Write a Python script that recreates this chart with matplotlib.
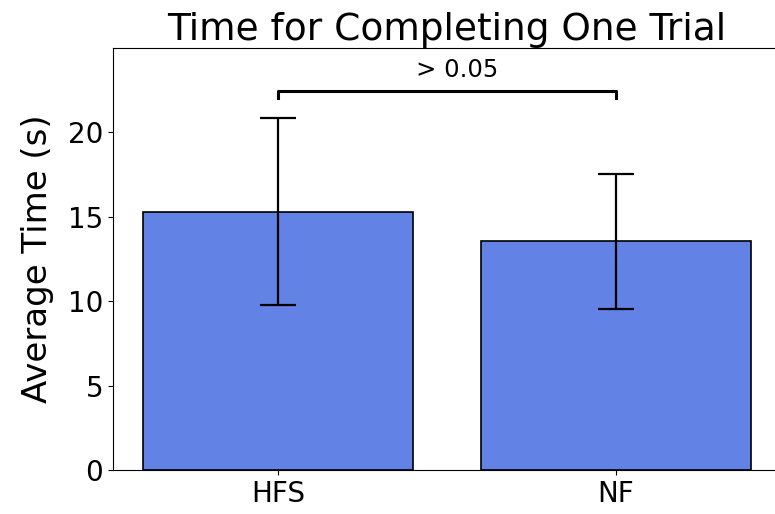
import matplotlib
matplotlib.use("Agg")
import matplotlib.pyplot as plt

conditions = ["HFS", "NF"]
mean_time = [15.3, 13.55]
err_time = [5.55, 4.0]
p_label = "> 0.05"
bracket_y = 22.45
bracket_drop = 0.42

fig = plt.figure(figsize=(7.75, 5.14), dpi=100)
ax = fig.add_axes([113 / 775, 1 - 470 / 514, 668 / 775, 422 / 514])

x = range(len(conditions))
ax.bar(x, mean_time, width=0.8, color="#6282E6",
       edgecolor="black", linewidth=1.2)
ax.errorbar(x, mean_time, yerr=err_time, fmt="none", ecolor="black",
            elinewidth=1.6, capsize=13, capthick=1.6)

# significance bracket
ax.plot([0, 0, 1, 1],
        [bracket_y - bracket_drop, bracket_y, bracket_y, bracket_y - bracket_drop],
        color="black", linewidth=2.2)
ax.text(0.53, bracket_y + 0.55, p_label, ha="center", va="bottom", fontsize=17.5)

ax.set_xticks(list(x))
ax.set_xticklabels(conditions)
ax.set_ylim(0, 25)
ax.set_yticks([0, 5, 10, 15, 20])
ax.tick_params(labelsize=20)
ax.set_ylabel("Average Time (s)", fontsize=24.5, labelpad=10)
ax.set_title("Time for Completing One Trial", fontsize=27)

fig.savefig("out.png", dpi=100)
